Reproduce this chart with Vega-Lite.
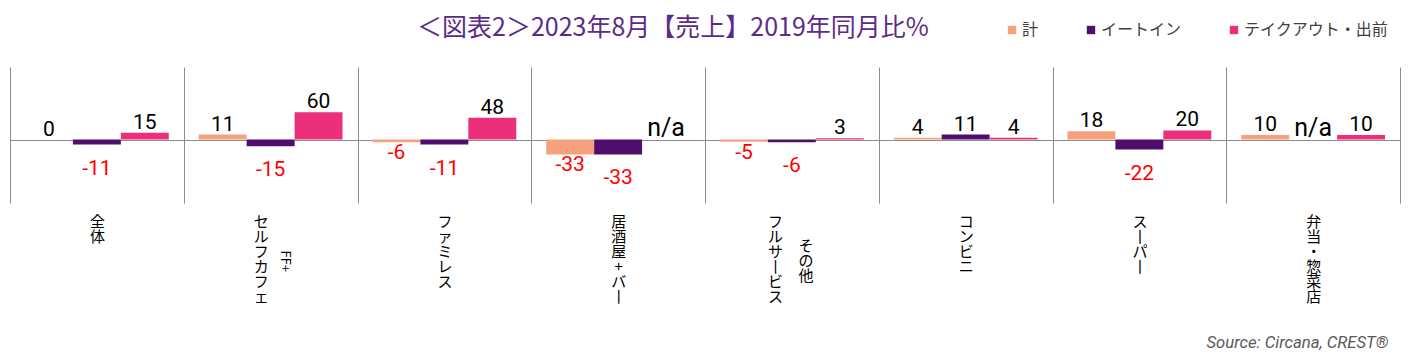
{
  "$schema": "https://vega.github.io/schema/vega-lite/v6.json",
  "width": 1390,
  "height": 136,
  "autosize": {"type": "none"},
  "padding": {"left": 10, "top": 67, "right": 15, "bottom": 161},
  "background": "white",
  "config": {"view": {"stroke": null}},
  "title": {
    "text": "＜図表2＞2023年8月【売上】2019年同月比%",
    "font": "Noto Sans CJK JP",
    "fontSize": 25,
    "fontWeight": "normal",
    "color": "#5B2C87",
    "anchor": "middle",
    "frame": "group",
    "dx": -32,
    "offset": -19
  },
  "data": {
    "values": [
      {"cat": "全体", "series": "計", "value": 0},
      {"cat": "全体", "series": "イートイン", "value": -11},
      {"cat": "全体", "series": "テイクアウト・出前", "value": 15},
      {"cat": "FF+セルフカフェ", "series": "計", "value": 11},
      {"cat": "FF+セルフカフェ", "series": "イートイン", "value": -15},
      {"cat": "FF+セルフカフェ", "series": "テイクアウト・出前", "value": 60},
      {"cat": "ファミレス", "series": "計", "value": -6},
      {"cat": "ファミレス", "series": "イートイン", "value": -11},
      {"cat": "ファミレス", "series": "テイクアウト・出前", "value": 48},
      {"cat": "居酒屋+バー", "series": "計", "value": -33},
      {"cat": "居酒屋+バー", "series": "イートイン", "value": -33},
      {"cat": "居酒屋+バー", "series": "テイクアウト・出前", "value": null},
      {"cat": "その他フルサービス", "series": "計", "value": -5},
      {"cat": "その他フルサービス", "series": "イートイン", "value": -6},
      {"cat": "その他フルサービス", "series": "テイクアウト・出前", "value": 3},
      {"cat": "コンビニ", "series": "計", "value": 4},
      {"cat": "コンビニ", "series": "イートイン", "value": 11},
      {"cat": "コンビニ", "series": "テイクアウト・出前", "value": 4},
      {"cat": "スーパー", "series": "計", "value": 18},
      {"cat": "スーパー", "series": "イートイン", "value": -22},
      {"cat": "スーパー", "series": "テイクアウト・出前", "value": 20},
      {"cat": "弁当・惣菜店", "series": "計", "value": 10},
      {"cat": "弁当・惣菜店", "series": "イートイン", "value": null},
      {"cat": "弁当・惣菜店", "series": "テイクアウト・出前", "value": 10}
    ]
  },
  "layer": [
    {
      "mark": {"type": "bar"},
      "encoding": {
        "x": {
          "field": "cat", "type": "nominal",
          "scale": {"domain": ["全体", "FF+セルフカフェ", "ファミレス", "居酒屋+バー", "その他フルサービス", "コンビニ", "スーパー", "弁当・惣菜店"], "paddingInner": 0, "paddingOuter": 0},
          "axis": {
            "orient": "bottom",
            "title": "Source: Circana, CREST®",
            "titleFont": "Roboto",
            "titleFontSize": 16.7,
            "titleFontStyle": "italic",
            "titleFontWeight": "normal",
            "titleColor": "#595959",
            "titleAnchor": "end",
            "titleAlign": "right",
            "titleBaseline": "alphabetic",
            "titleX": 1378,
            "titleY": 144,
            "domain": false,
            "ticks": false,
            "grid": true,
            "gridColor": "#8C8C8C",
            "tickBand": "extent",
            "labelExpr": "isString(datum.value) ? split(replace(replace(replace(datum.value,'FF+',''),'その他',''),regexp('ー','g'),'丨'),'') : ''",
            "labelAngle": 0,
            "labelAlign": "center",
            "labelBaseline": "top",
            "labelFont": "Noto Sans CJK JP",
            "labelFontSize": 15,
            "labelLineHeight": 15,
            "labelColor": "#000000",
            "labelPadding": 11,
            "labelOverlap": false,
            "labelBound": false,
            "labelOffset": {"expr": "datum.value === 'FF+セルフカフェ' ? -10 : (datum.value === 'その他フルサービス' ? -17 : 0)"}
          }
        },
        "xOffset": {
          "field": "series", "type": "nominal",
          "scale": {"domain": ["計", "イートイン", "テイクアウト・出前"], "paddingOuter": 0.3125, "paddingInner": 0}
        },
        "y": {
          "field": "value", "type": "quantitative", "stack": null,
          "scale": {"domain": [-140, 160], "nice": false, "zero": false},
          "axis": {"values": [0], "grid": true, "gridColor": "#8C8C8C", "labels": false, "ticks": false, "domain": false, "title": null}
        },
        "color": {
          "field": "series", "type": "nominal",
          "scale": {"domain": ["計", "イートイン", "テイクアウト・出前"], "range": ["#F7A07C", "#4F0E6E", "#EC2F7B"]},
          "legend": {
            "orient": "none",
            "legendX": 994,
            "legendY": -45,
            "direction": "horizontal",
            "title": null,
            "symbolType": "square",
            "symbolSize": 70,
            "labelFont": "Noto Sans CJK JP",
            "labelFontSize": 16,
            "labelColor": "#404040",
            "columnPadding": 44,
            "labelOffset": 2
          }
        }
      }
    },
    {
      "transform": [{"filter": "datum.value != null && datum.value >= 0"}],
      "mark": {"type": "text", "baseline": "alphabetic", "dy": -4, "font": "Roboto", "fontSize": 21, "color": "#000000"},
      "encoding": {
        "x": {
          "field": "cat", "type": "nominal",
          "axis": {
            "orient": "bottom", "title": null, "domain": false, "ticks": false, "grid": false,
            "labelExpr": "datum.value === 'その他フルサービス' ? split('その他','') : ''",
            "labelAngle": 0, "labelAlign": "center", "labelBaseline": "top",
            "labelFont": "Noto Sans CJK JP", "labelFontSize": 15, "labelLineHeight": 15, "labelColor": "#000000",
            "labelPadding": 35, "labelOffset": 14, "labelOverlap": false, "labelBound": false
          }
        },
        "xOffset": {"field": "series", "type": "nominal"},
        "y": {"field": "value", "type": "quantitative"},
        "text": {"field": "value", "type": "nominal"}
      }
    },
    {
      "transform": [{"filter": "datum.value != null && datum.value < 0 && datum.series === '計'"}],
      "mark": {"type": "text", "baseline": "alphabetic", "dy": 17, "font": "Roboto", "fontSize": 21, "color": "#FF0000"},
      "encoding": {
        "x": {
          "field": "cat", "type": "nominal",
          "axis": {
            "orient": "bottom", "title": null, "domain": false, "ticks": false, "grid": false,
            "labelExpr": "datum.value === 'FF+セルフカフェ' ? 'FF+' : ''",
            "labelAngle": 90, "labelAlign": "left", "labelBaseline": "middle",
            "labelFont": "Noto Sans CJK JP", "labelFontSize": 13, "labelColor": "#000000",
            "labelPadding": 47, "labelOffset": 14, "labelOverlap": false, "labelBound": false
          }
        },
        "xOffset": {"field": "series", "type": "nominal"},
        "y": {"field": "value", "type": "quantitative"},
        "text": {"field": "value", "type": "nominal"}
      }
    },
    {
      "transform": [{"filter": "datum.value != null && datum.value < 0 && datum.series === 'イートイン'"}],
      "mark": {"type": "text", "baseline": "alphabetic", "dy": 30, "font": "Roboto", "fontSize": 21, "color": "#FF0000"},
      "encoding": {
        "x": {"field": "cat", "type": "nominal", "axis": null},
        "xOffset": {"field": "series", "type": "nominal"},
        "y": {"field": "value", "type": "quantitative"},
        "text": {"field": "value", "type": "nominal"}
      }
    },
    {
      "transform": [{"filter": "datum.value == null"}],
      "mark": {"type": "text", "baseline": "alphabetic", "dy": -4, "font": "Roboto", "fontSize": 25, "color": "#000000", "invalid": null},
      "encoding": {
        "x": {"field": "cat", "type": "nominal", "axis": null},
        "xOffset": {"field": "series", "type": "nominal"},
        "y": {"field": "value", "type": "quantitative"},
        "text": {"value": "n/a"}
      }
    }
  ],
  "resolve": {"axis": {"x": "independent"}}
}
